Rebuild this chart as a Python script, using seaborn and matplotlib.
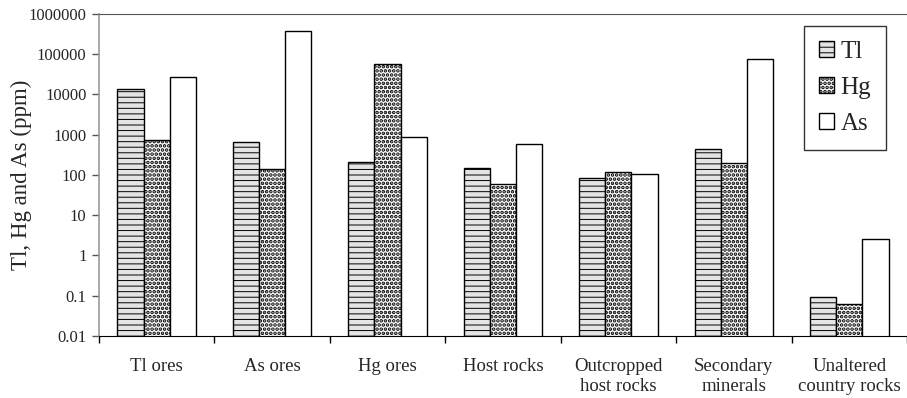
import matplotlib.pyplot as plt
import matplotlib.ticker as mticker
import seaborn as sns
import pandas as pd
import numpy as np

# Concentrations (ppm)
categories = ['Tl ores', 'As ores', 'Hg ores', 'Host rocks',
              'Outcropped\nhost rocks', 'Secondary\nminerals', 'Unaltered\ncountry rocks']
tl_values = [13800, 660, 210, 150, 85, 430, 0.095]
hg_values = [740, 140, 57000, 60, 115, 200, 0.062]
as_values = [27000, 380000, 870, 590, 108, 76000, 2.6]
elements = ['Tl', 'Hg', 'As']
ytick_values = [0.01, 0.1, 1, 10, 100, 1000, 10000, 100000, 1000000]
ytick_labels = ['0.01', '0.1', '1', '10', '100', '1000', '10000', '100000', '1000000']

df = pd.DataFrame({
    'Rock': categories * 3,
    'ppm': tl_values + hg_values + as_values,
    'Element': np.repeat(elements, len(categories)),
})

sns.set_style('white')
plt.rcParams['font.family'] = ['Liberation Serif', 'DejaVu Serif']
plt.rcParams['hatch.linewidth'] = 0.7

fig = plt.figure(figsize=(9.07, 3.98), dpi=100)
ax = fig.add_axes([0.109, 0.156, 0.891, 0.809])
ax.set_yscale('log')

sns.barplot(data=df, x='Rock', y='ppm', hue='Element', ax=ax,
            palette=['#e4e4e4', 'white', 'white'], width=0.68,
            edgecolor='black', linewidth=1.0, errorbar=None)

hatches = ['---', '....', '']
hatch_widths = [0.7, 1.8, 0.7]


def style_patch(p, h, lw):
    p.set_hatch(h)
    if hasattr(p, 'set_hatch_linewidth'):
        p.set_hatch_linewidth(lw)


for cont, h, lw in zip(ax.containers, hatches, hatch_widths):
    for bar in cont:
        style_patch(bar, h, lw)

ax.set_ylim(0.01, 1000000)
ax.set_xlim(-0.5, len(categories) - 0.5)
ax.yaxis.set_major_locator(mticker.FixedLocator(ytick_values))
ax.yaxis.set_major_formatter(mticker.FixedFormatter(ytick_labels))
ax.yaxis.set_minor_locator(mticker.NullLocator())
ax.tick_params(axis='y', which='major', left=True, length=5, width=1,
               color='#555555', labelsize=12, pad=4)

ax.set_xticks(range(len(categories)))
ax.set_xticklabels(categories)
ax.set_xticks(np.arange(-0.5, len(categories)), minor=True)
ax.tick_params(axis='x', which='major', length=0, labelsize=13.5, pad=16)
ax.tick_params(axis='x', which='minor', bottom=True, length=5, width=1, color='black')

ax.set_xlabel('')
ax.set_ylabel('Tl, Hg and As (ppm)', fontsize=16.5)
ax.yaxis.set_label_coords(-0.083, 0.5)

ax.spines['left'].set_color('#9a9a9a')
ax.spines['left'].set_linewidth(1.2)
ax.spines['bottom'].set_color('black')
ax.spines['top'].set_color('#555555')
ax.spines['right'].set_visible(False)

leg = ax.legend(loc='upper right', bbox_to_anchor=(0.974, 0.962),
                fontsize=18, handlelength=0.6, handleheight=0.6,
                labelspacing=0.55, handletextpad=0.25, borderpad=0.6,
                fancybox=False, frameon=True, borderaxespad=0)
leg.get_frame().set_edgecolor('black')
leg.get_frame().set_linewidth(1.0)
for handle, h, lw in zip(leg.legend_handles, hatches, hatch_widths):
    style_patch(handle, h, lw)
    handle.set_edgecolor('black')

fig.savefig('out.png', dpi=100)
